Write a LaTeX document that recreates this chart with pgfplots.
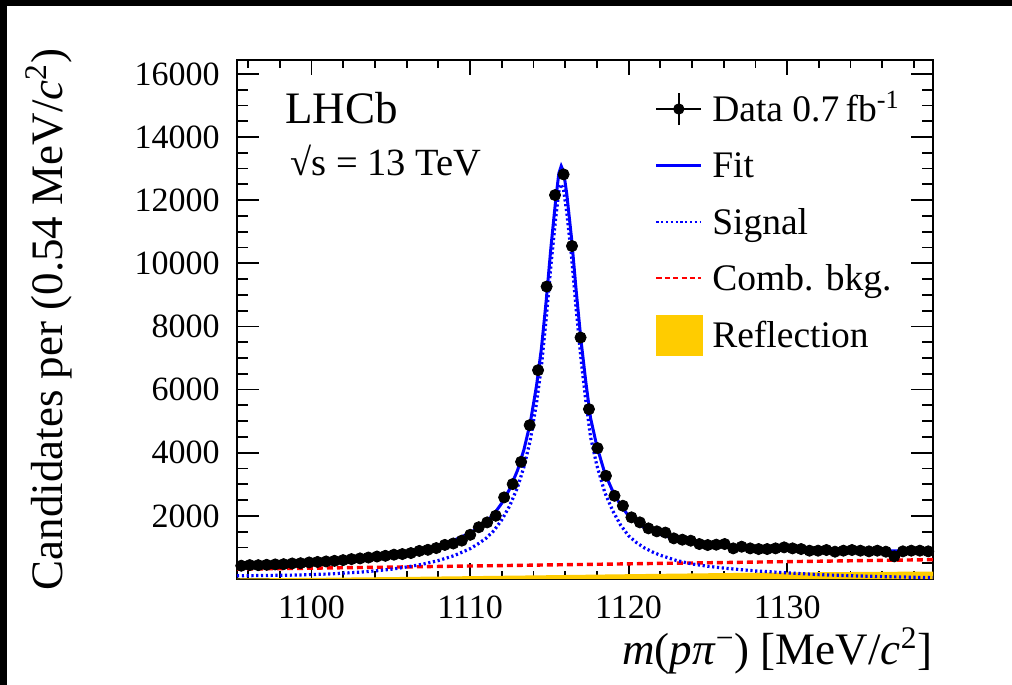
\documentclass[border=0pt]{standalone}
\usepackage{fontspec}
\setmainfont{Liberation Serif}
\usepackage{pgfplots}
\pgfplotsset{compat=1.18}
\definecolor{refl}{RGB}{255,204,0}
\begin{document}
\begin{tikzpicture}
\useasboundingbox (-118.5pt,-53pt) rectangle (387.5pt,289.5pt);
\fill[white] (-118.5pt,-53pt) rectangle (387.5pt,289.5pt);
\fill[black] (-118.5pt,286.25pt) rectangle (387.5pt,289.5pt);
\fill[black] (-118.5pt,-53pt) rectangle (-114.9pt,289.5pt);
\begin{axis}[
  at={(0pt,0pt)}, anchor=south west,
  width=348pt, height=259.5pt, scale only axis,
  xmin=1095.3, xmax=1139.2, ymin=0, ymax=16440,
  xtick={1100,1110,1120,1130},
  minor xtick={1096,1098,...,1138},
  ytick={2000,4000,...,16000},
  minor ytick={500,1000,...,16000},
  scaled y ticks=false, scaled x ticks=false,
  tick align=inside,
  xtick pos=both, ytick pos=both,
  axis line style={line width=1.3pt},
  every tick/.style={black, line width=0.9pt},
  xtick style={/pgfplots/major tick length=7.75pt,/pgfplots/minor tick length=3.9pt},
  ytick style={/pgfplots/major tick length=11pt,/pgfplots/minor tick length=5.75pt},
  /pgf/number format/assume math mode=true,
  /pgf/number format/1000 sep={},
  tick label style={font=\fontsize{17}{20}\selectfont},
  yticklabel style={inner sep=0pt, xshift=-8.5pt},
  xticklabel style={inner sep=0pt, yshift=-8pt},
  xlabel={\textit{m}(\textit{p}\textit{π}\textsuperscript{−}) [MeV/\textit{c}\textsuperscript{2}]},
  xlabel style={at={(axis description cs:1,-0.1638)}, anchor=base east, inner sep=0pt, font=\fontsize{22.5}{27}\selectfont},
  ylabel={Candidates per (0.54 MeV/\textit{c}\textsuperscript{2})},
  ylabel style={at={(axis description cs:-0.2514,0.5)}, anchor=base, inner sep=0pt, font=\fontsize{22.5}{27}\selectfont},
  legend cell align=left,
  legend style={at={(0.6006,0.9441)}, anchor=north west, draw=none, fill=none,
    inner sep=0pt, outer sep=0pt, row sep=8.2pt, column sep=4.8pt,
    font=\fontsize{18.75}{22}\selectfont,
    nodes={inner sep=0pt, text height=14pt, text depth=1.6pt}},
  legend image code/.code={\path[draw=none,fill=none] (0pt,-10pt) rectangle (23pt,10pt); \draw[#1] (0pt,0pt) -- (22.5pt,0pt);},
]
\addlegendimage{legend image code/.code={\path[draw=none,fill=none] (0pt,-10pt) rectangle (23pt,10pt); \draw[black,line width=1pt] (0pt,0pt) -- (22.5pt,0pt) (11.25pt,-8pt) -- (11.25pt,8pt); \fill[black] (11.25pt,0pt) circle (2.6pt);}}
\addlegendentry{Data 0.7\,fb\textsuperscript{-1}}
\addlegendimage{blue, line width=1.3pt}
\addlegendentry{Fit}
\addlegendimage{blue, line width=1.2pt, dash pattern=on 1.1pt off 1.3pt}
\addlegendentry{Signal}
\addlegendimage{red, line width=1.2pt, dash pattern=on 2.6pt off 1.6pt}
\addlegendentry{Comb. bkg.}
\addlegendimage{legend image code/.code={\fill[refl] (0pt,-10pt) rectangle (23pt,10pt);}}
\addlegendentry{Reflection}

% Reflection
\addplot[draw=none, fill=refl, forget plot] coordinates {
(1095.3,15) (1100,35) (1105,60) (1110,90) (1115,120) (1120,152) (1125,182) (1130,207) (1135,225) (1139.2,235)
} \closedcycle;
% Combinatorial background
\addplot[red, line width=1.7pt, dash pattern=on 3pt off 2pt, forget plot] coordinates {
(1095.3,310) (1139.2,613)
};
% Signal
\addplot[blue, line width=1.6pt, dash pattern=on 1.1pt off 1.3pt, forget plot] coordinates {
(1095.3,100) (1097,111) (1099,124) (1101,157) (1103,214) (1104,256) (1105,308) (1106,380)
(1107,467) (1108,584) (1109,741) (1110,959) (1110.5,1112) (1111,1286) (1111.5,1529)
(1112,1873) (1112.5,2316) (1113,2910) (1113.4,3555) (1113.8,4399) (1114.2,5595)
(1114.5,6740) (1114.8,8236) (1115.1,9932) (1115.4,11429) (1115.6,12276) (1115.75,12504)
(1115.9,12322) (1116.1,11619) (1116.4,10215) (1116.7,8511) (1117.0,6957) (1117.3,5653)
(1117.6,4500) (1118.0,3594) (1118.5,2738) (1119.0,2160) (1119.5,1704) (1120.0,1368)
(1120.5,1151) (1121.0,985) (1121.5,858) (1122,752) (1123,589) (1124,476) (1125,403)
(1126,346) (1127,299) (1128,257) (1130,194) (1132,138) (1134,103) (1136,76) (1139.2,42)
};
% Fit
\addplot[blue, line width=1.5pt, forget plot] coordinates {
(1095.3,425) (1097,455) (1099,490) (1101,545) (1103,625) (1104,680) (1105,745) (1106,830)
(1107,930) (1108,1060) (1109,1230) (1110,1460) (1110.5,1620) (1111,1800) (1111.5,2050)
(1112,2400) (1112.5,2850) (1113,3450) (1113.4,4100) (1113.8,4950) (1114.2,6150)
(1114.5,7300) (1114.8,8800) (1115.1,10500) (1115.4,12000) (1115.6,12850) (1115.75,13080)
(1115.9,12900) (1116.1,12200) (1116.4,10800) (1116.7,9100) (1117.0,7550) (1117.3,6250)
(1117.6,5100) (1118.0,4200) (1118.5,3350) (1119.0,2780) (1119.5,2330) (1120.0,2000)
(1120.5,1790) (1121.0,1630) (1121.5,1510) (1122,1410) (1123,1260) (1124,1160) (1125,1100)
(1126,1055) (1127,1020) (1128,990) (1130,950) (1132,915) (1134,900) (1136,893) (1139.2,890)
};
% Data
\addplot[only marks, mark=*, mark size=2.8pt, black, forget plot] coordinates {
(1095.57,421) (1096.10,440) (1096.64,438) (1097.17,450) (1097.71,462) (1098.24,470)
(1098.78,492) (1099.31,500) (1099.85,525) (1100.38,540) (1100.92,556) (1101.45,575)
(1101.99,598) (1102.52,630) (1103.06,652) (1103.59,680) (1104.13,712) (1104.66,735)
(1105.20,770) (1105.73,790) (1106.27,822) (1106.80,890) (1107.34,925) (1107.87,980)
(1108.41,1080) (1108.94,1125) (1109.48,1215) (1110.01,1400) (1110.55,1640) (1111.08,1794)
(1111.62,2003) (1112.15,2585) (1112.69,3006) (1113.22,3712) (1113.76,4873) (1114.29,6614)
(1114.83,9263) (1115.36,12161) (1115.90,12816) (1116.43,10547) (1116.97,7649) (1117.50,5380)
(1118.04,4146) (1118.57,3269) (1119.11,2636) (1119.64,2320) (1120.18,1953) (1120.71,1794)
(1121.25,1604) (1121.78,1510) (1122.32,1470) (1122.85,1287) (1123.39,1245) (1123.92,1213)
(1124.46,1108) (1124.99,1076) (1125.53,1087) (1126.06,1108) (1126.60,970) (1127.13,1023)
(1127.67,970) (1128.20,949) (1128.74,949) (1129.27,970) (1129.81,1002) (1130.34,970)
(1130.88,949) (1131.41,897) (1131.95,897) (1132.48,918) (1133.02,865) (1133.55,897)
(1134.09,918) (1134.62,897) (1135.16,876) (1135.69,897) (1136.23,865) (1136.76,717)
(1137.30,876) (1137.83,897) (1138.37,897) (1138.90,876)
};
\node[anchor=base west, inner sep=0pt, font=\fontsize{22.5}{27}\selectfont] at (rel axis cs:0.069,0.8786) {LHCb};
\node[anchor=base west, inner sep=0pt, font=\fontsize{19.25}{23}\selectfont] at (rel axis cs:0.0761,0.7784) {√s = 13 TeV};
\end{axis}
\end{tikzpicture}
\end{document}
